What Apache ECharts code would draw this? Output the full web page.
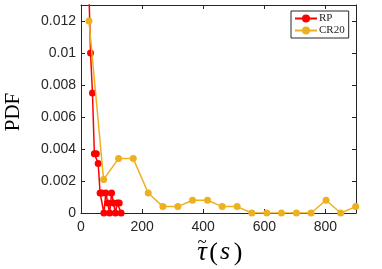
<!DOCTYPE html>
<html><head><meta charset="utf-8">
<script src="https://cdn.jsdelivr.net/npm/echarts@6/dist/echarts.min.js"></script>
<style>html,body{margin:0;padding:0;background:#fff}#c{width:382px;height:269px}</style>
</head><body><div id="c"></div>
<script>
// RP series (bin centres, PDF values)
const rpX = [25, 31.25, 37.5, 43.75, 50, 56.25, 62.5, 68.75, 75, 81.25, 87.5, 93.75, 100, 106.25, 112.5, 118.75, 125, 131.25];
const rpY = [0.0145, 0.0100, 0.0075, 0.0037, 0.0037, 0.0031, 0.00125, 0.00125, 0, 0.00125, 0.000625, 0, 0.00125, 0.000625, 0, 0.000625, 0.000625, 0];
// CR20 series
const crX = [26, 74, 123, 171, 220, 268, 317, 365, 414, 462, 511, 559, 608, 656, 705, 753, 802, 850, 899];
const crY = [0.0120, 0.0021, 0.0034, 0.0034, 0.00125, 0.0004, 0.0004, 0.0008, 0.0008, 0.0004, 0.0004, 0, 0, 0, 0, 0, 0.0008, 0, 0.0004];
// axes
const xTicks = [0, 200, 400, 600, 800];
const yTicks = [0, 0.002, 0.004, 0.006, 0.008, 0.01, 0.012];
const seriesNames = ['RP', 'CR20'];

const AX = '#262626';
const chart = echarts.init(document.getElementById('c'), null, {renderer: 'canvas'});
const pairs = (xs, ys) => xs.map((x, i) => [x, ys[i]]);
const fmtX = v => xTicks.indexOf(v) >= 0 ? String(v) : '';
const fmtY = v => { const k = yTicks.findIndex(t => Math.abs(t - v) < 1e-9); return k >= 0 ? String(yTicks[k]) : ''; };
const tickFont = {color: AX, fontFamily: 'Liberation Sans, Arial, sans-serif', fontSize: 14};

chart.setOption({
  animation: false,
  grid: {left: 81, right: 26, top: 5, bottom: 56},
  xAxis: [
    {type: 'value', min: 0, max: 900, interval: 200, position: 'bottom',
     axisLine: {show: true, onZero: false, lineStyle: {color: AX, width: 1}},
     axisTick: {show: true, inside: true, length: 4, lineStyle: {color: AX}},
     axisLabel: Object.assign({margin: 7, formatter: fmtX}, tickFont),
     splitLine: {show: false}},
    {type: 'value', min: 0, max: 900, interval: 200, position: 'top',
     axisLine: {show: true, onZero: false, lineStyle: {color: AX, width: 1}},
     axisTick: {show: true, inside: true, length: 4, lineStyle: {color: AX}},
     axisLabel: {show: false}, splitLine: {show: false}}
  ],
  yAxis: [
    {type: 'value', min: 0, max: 0.013, interval: 0.002, position: 'left',
     axisLine: {show: true, onZero: false, lineStyle: {color: AX, width: 1}},
     axisTick: {show: true, inside: true, length: 4, lineStyle: {color: AX}},
     axisLabel: Object.assign({margin: 5, formatter: fmtY}, tickFont),
     splitLine: {show: false}},
    {type: 'value', min: 0, max: 0.013, interval: 0.002, position: 'right',
     axisLine: {show: true, onZero: false, lineStyle: {color: AX, width: 1}},
     axisTick: {show: true, inside: true, length: 4, lineStyle: {color: AX}},
     axisLabel: {show: false}, splitLine: {show: false}}
  ],
  legend: {
    data: seriesNames, orient: 'vertical', left: 291, top: 11,
    padding: [2, 4, 2, 3], itemGap: 1, itemWidth: 22, itemHeight: 10,
    borderColor: AX, borderWidth: 1, backgroundColor: '#fff', borderRadius: 0,
    textStyle: {fontFamily: 'Liberation Serif, Times New Roman, serif', fontSize: 11, color: AX, lineHeight: 10, padding: [0, 0, 0, -3]}
  },
  series: [
    {name: seriesNames[0], type: 'line', data: pairs(rpX, rpY), symbol: 'circle', symbolSize: 7,
     color: '#FF0000', lineStyle: {width: 1.5, color: '#FF0000'}, itemStyle: {color: '#FF0000'}, z: 2},
    {name: seriesNames[1], type: 'line', data: pairs(crX, crY), symbol: 'circle', symbolSize: 7,
     color: '#EDB120', lineStyle: {width: 1.5, color: '#EDB120'}, itemStyle: {color: '#EDB120'}, z: 3}
  ],
  graphic: [
    {type: 'text', x: 13, y: 112, rotation: Math.PI / 2,
     style: {text: 'PDF', fill: '#000', font: '21px "Liberation Serif", "Times New Roman", serif', textAlign: 'center', textVerticalAlign: 'middle'}},
    {type: 'text', x: 202, y: 253,
     style: {text: 'τ', fill: '#000', font: 'italic 27px "Liberation Serif", serif', textAlign: 'center', textVerticalAlign: 'middle'}},
    {type: 'text', x: 202, y: 243,
     style: {text: '~', fill: '#000', font: '17px "Liberation Serif", serif', textAlign: 'center', textVerticalAlign: 'middle'}},
    {type: 'text', x: 213.5, y: 253,
     style: {text: '(', fill: '#000', font: '26px "Liberation Serif", serif', textAlign: 'center', textVerticalAlign: 'middle'}},
    {type: 'text', x: 225, y: 252,
     style: {text: 's', fill: '#000', font: 'italic 26px "Liberation Serif", serif', textAlign: 'center', textVerticalAlign: 'middle'}},
    {type: 'text', x: 238, y: 253,
     style: {text: ')', fill: '#000', font: '26px "Liberation Serif", serif', textAlign: 'center', textVerticalAlign: 'middle'}}
  ]
});
</script></body></html>
